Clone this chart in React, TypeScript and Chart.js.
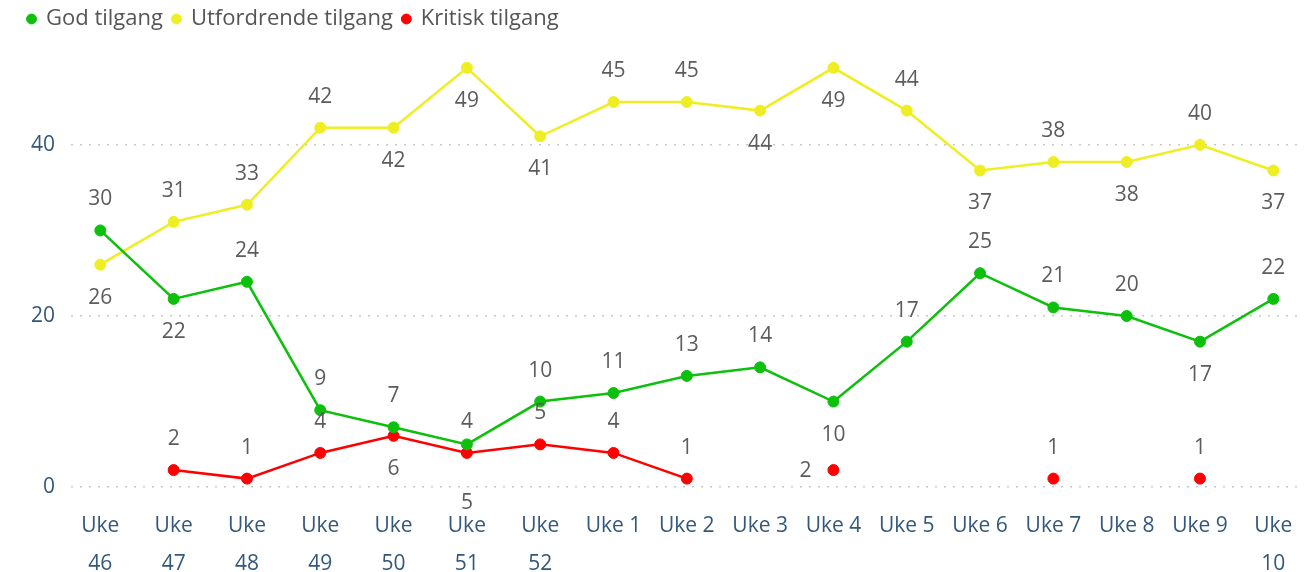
import React, { useEffect, useRef } from 'react';
import { Chart, registerables } from 'chart.js';

Chart.register(...registerables);

const categories: (string | string[])[] = [
  ['Uke', '46'], ['Uke', '47'], ['Uke', '48'], ['Uke', '49'], ['Uke', '50'], ['Uke', '51'], ['Uke', '52'],
  'Uke 1', 'Uke 2', 'Uke 3', 'Uke 4', 'Uke 5', 'Uke 6', 'Uke 7', 'Uke 8', 'Uke 9', ['Uke', '10'],
];
const godTilgang = [30, 22, 24, 9, 7, 5, 10, 11, 13, 14, 10, 17, 25, 21, 20, 17, 22];
const utfordrendeTilgang = [26, 31, 33, 42, 42, 49, 41, 45, 45, 44, 49, 44, 37, 38, 38, 40, 37];
const kritiskTilgang = [null, 2, 1, 4, 6, 4, 5, 4, 1, null, 2, null, null, 1, null, 1, null];
const yTicks = [0, 20, 40];

// label placement per point: a = above, b = below, bb = far below, l = left
const godPlacement = ['a', 'b', 'a', 'a', 'a', 'bb', 'a', 'a', 'a', 'a', 'b', 'a', 'a', 'a', 'a', 'b', 'a'];
const utfPlacement = ['b', 'a', 'a', 'a', 'b', 'b', 'b', 'a', 'a', 'b', 'b', 'a', 'b', 'a', 'b', 'a', 'b'];
const kritPlacement = ['', 'a', 'a', 'a', 'b', 'a', 'a', 'a', 'a', '', 'l', '', '', 'a', '', 'a', ''];
const placements = [godPlacement, utfPlacement, kritPlacement];

const GREEN = '#0cc00c';
const YELLOW = '#eeee22';
const RED = '#ff0000';
const FONT = '"Open Sans", "Noto Sans", sans-serif';
const AXIS_COLOR = '#34587a';
const LABEL_COLOR = '#5c5c5c';

const toPoints = (arr: (number | null)[]) => arr.map((y, i) => ({ x: i, y }));

const labelPlugin = {
  id: 'pointLabels',
  afterDatasetsDraw(chart: any) {
    const ctx = chart.ctx;
    ctx.save();
    ctx.font = `21px ${FONT}`;
    ctx.fillStyle = LABEL_COLOR;
    ctx.textAlign = 'center';
    ctx.textBaseline = 'middle';
    chart.data.datasets.forEach((ds: any, di: number) => {
      const meta = chart.getDatasetMeta(di);
      const place = placements[di];
      meta.data.forEach((pt: any, i: number) => {
        const v = ds.data[i].y;
        if (v === null || v === undefined) return;
        let x = pt.x;
        let y = pt.y;
        const p = place[i];
        if (p === 'a') y -= 31;
        else if (p === 'b') y += 33;
        else if (p === 'bb') y += 59;
        else if (p === 'l') { x -= 28; y += 1; }
        ctx.fillText(String(v), x, y);
      });
    });
    ctx.restore();
  },
};

export default function App() {
  const ref = useRef<HTMLCanvasElement | null>(null);
  useEffect(() => {
    if (!ref.current) return;
    Chart.defaults.font.family = FONT;
    const mk = (label: string, data: (number | null)[], color: string) => ({
      label,
      data: toPoints(data),
      borderColor: color,
      backgroundColor: color,
      pointBackgroundColor: color,
      pointBorderColor: color,
      pointRadius: 5.5,
      pointBorderWidth: 1,
      borderWidth: 2.5,
      pointStyle: 'circle',
      spanGaps: false,
      tension: 0,
    });
    const chart = new Chart(ref.current, {
      type: 'line',
      data: {
        datasets: [
          mk('God tilgang', godTilgang, GREEN),
          mk('Utfordrende tilgang', utfordrendeTilgang, YELLOW),
          mk('Kritisk tilgang', kritiskTilgang, RED),
        ] as any,
      },
      options: {
        animation: false,
        responsive: false,
        devicePixelRatio: 1,
        layout: { padding: { left: 18, right: 4, top: -2, bottom: 0 } },
        plugins: {
          tooltip: { enabled: false },
          legend: {
            position: 'top',
            align: 'start',
            labels: {
              usePointStyle: true,
              pointStyle: 'circle',
              boxHeight: 7,
              boxWidth: 7,
              padding: 10,
              color: '#555555',
              font: { size: 22, family: FONT },
            },
          },
        },
        scales: {
          x: {
            type: 'linear',
            min: -0.4,
            max: 16.33,
            grid: { display: false },
            border: { display: false },
            afterBuildTicks: (s: any) => { s.ticks = categories.map((_, i) => ({ value: i })); },
            afterFit: (s: any) => { s.height = 69; },
            ticks: {
              autoSkip: false,
              maxRotation: 0,
              minRotation: 0,
              padding: -4,
              color: AXIS_COLOR,
              font: { size: 21, family: FONT, lineHeight: 1.8 },
              callback: (_v: any, i: number) => categories[i] as any,
            },
          },
          y: {
            type: 'linear',
            min: -1.85,
            max: 52.25,
            afterBuildTicks: (s: any) => { s.ticks = yTicks.map((v) => ({ value: v })); },
            afterFit: (s: any) => { s.width = 53; },
            grid: { color: '#c8c8c8', lineWidth: 1.5, drawTicks: false },
            border: { display: false, dash: [2, 7] },
            ticks: {
              padding: 16,
              color: AXIS_COLOR,
              font: { size: 21, family: FONT },
            },
          },
        },
      } as any,
      plugins: [labelPlugin],
    });
    return () => chart.destroy();
  }, []);
  return (
    <div style={{ position: 'fixed', left: 0, top: 0, width: 1304, height: 572, background: '#fff' }}>
      <canvas ref={ref} width={1304} height={572} />
    </div>
  );
}
